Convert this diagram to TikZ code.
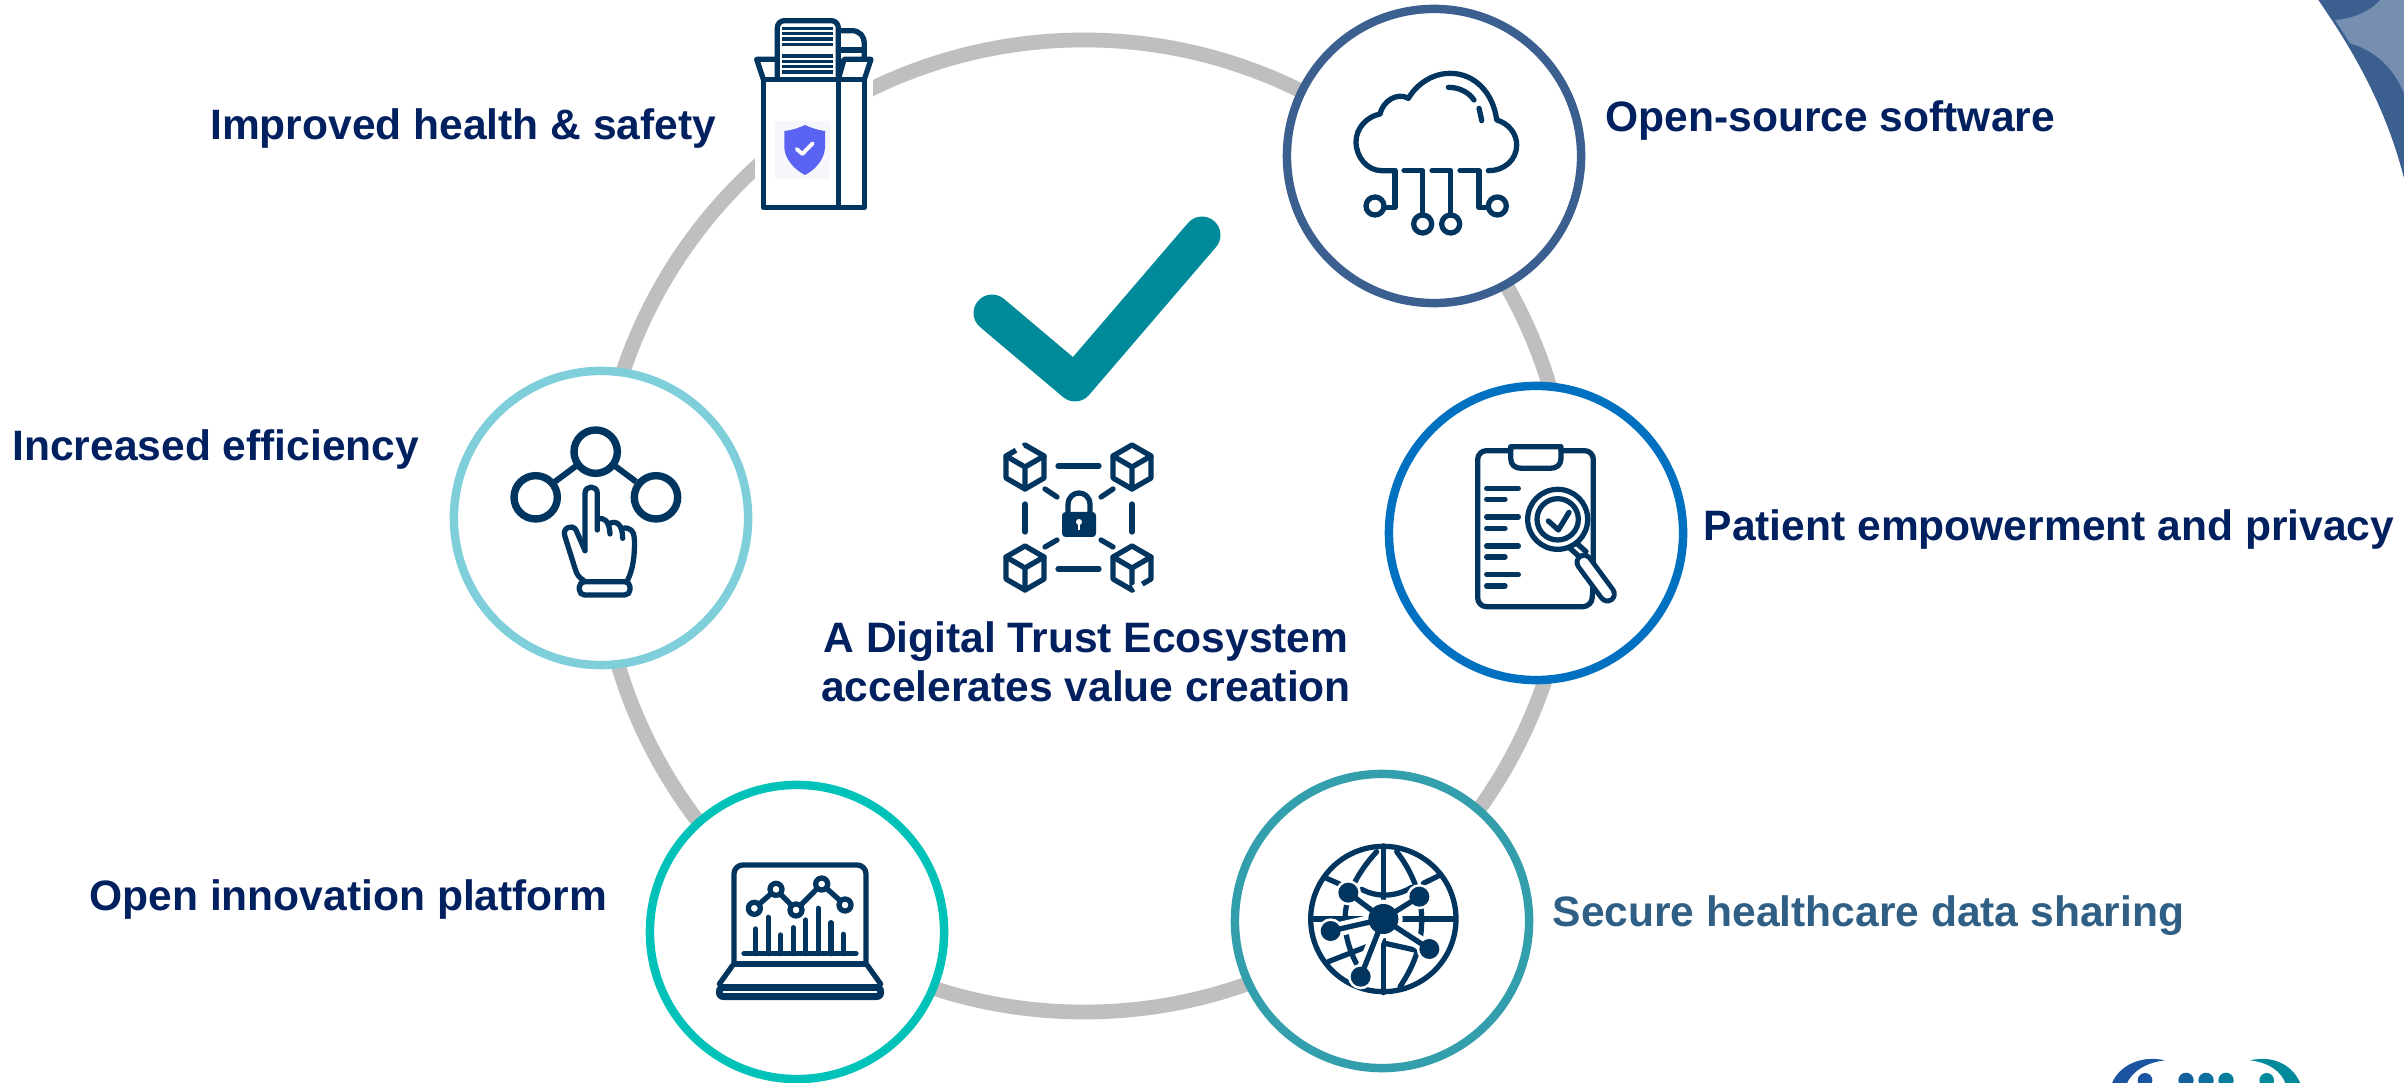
\documentclass[tikz,border=0pt]{standalone}
\usepackage{fontspec}
\setmainfont{Liberation Sans}
\definecolor{navytext}{HTML}{002060}
\definecolor{icondark}{HTML}{00355F}
\definecolor{ringgray}{HTML}{BFBFBF}
\definecolor{cloudblue}{HTML}{3B5F8F}
\definecolor{clipblue}{HTML}{0070C0}
\definecolor{globeteal}{HTML}{339EAC}
\definecolor{laptopteal}{HTML}{00C2B8}
\definecolor{handblue}{HTML}{7FCFDB}
\definecolor{checkteal}{HTML}{008A9A}
\definecolor{shareblue}{HTML}{2F5F85}
\definecolor{shieldblue}{HTML}{5B64F2}
\definecolor{shieldback}{HTML}{F6F7FB}
\definecolor{logoblue}{HTML}{1B54A0}
\tikzset{
    stage/.style={circle, draw, fill=white, line width=2.4pt, minimum size=2.94cm, inner sep=0pt},
    caption/.style={font=\fontsize{12.1}{14}\selectfont\bfseries, text=navytext, inner sep=0pt},
    iconline/.style={draw=icondark, line width=1.5pt, line cap=round, line join=round},
    pics/blockcube/.style={code={
        \draw[iconline] (0,-22) -- (19,-11) -- (19,11) -- (0,22) -- (-19,11) -- (-19,-11) -- cycle;
        \draw[iconline] (-19,-11) -- (0,0) -- (19,-11) (0,0) -- (0,22);
    }}
}
\begin{document}
\begin{tikzpicture}[x=0.01cm, y=-0.01cm]
        \useasboundingbox (0,0) rectangle (2404,1083);
        \clip (0,0) rectangle (2404,1083);
        \fill[white] (0,0) rectangle (2404,1083);

        % corner picture
        \begin{scope}[shift={(2100,0)}, scale=1/3]
            \clip (655,0) .. controls (730,110) and (850,290) .. (912,535) -- (912,0) -- cycle;
            \fill[cloudblue] (600,0) rectangle (912,540);
            \fill[color=white!30!cloudblue] (705,60) .. controls (760,55) and (810,35) .. (840,0) -- (912,0) -- (912,280)
                .. controls (880,200) and (820,150) .. (750,130) -- cycle;
        \end{scope}

        % logo
        \begin{scope}[shift={(2060,1023)}, scale=1/3]
            \fill[logoblue] (315,112) .. controls (240,95) and (175,130) .. (155,183) -- (200,183) .. controls (215,145) and (260,118) .. (315,112) -- cycle;
            \fill[checkteal] (570,112) .. controls (645,95) and (700,130) .. (722,183) -- (677,183) .. controls (665,145) and (625,118) .. (570,112) -- cycle;
            \fill[logoblue] (255,172) circle (22);
            \fill[color=logoblue!75!checkteal] (378,172) circle (23);
            \fill[color=logoblue!50!checkteal] (438,172) circle (23);
            \fill[color=logoblue!25!checkteal] (498,172) circle (23);
            \fill[checkteal] (620,172) circle (22);
        \end{scope}

        % big ring
        \draw[ringgray, line width=4.2pt] (1084,526) circle (486);
        \fill[white] (755,0) rectangle (873,215);

        \node[stage, draw=cloudblue] (cloud) at (1434,156) {};
        \node[stage, draw=clipblue] (clipboard) at (1536,533) {};
        \node[stage, draw=globeteal] (globe) at (1382,921) {};
        \node[stage, draw=laptopteal] (laptop) at (797,932) {};
        \node[stage, draw=handblue] (hand) at (601,518) {};

        \node[caption, anchor=east] (safety) at (717,129) {Improved health \& safety};
        \node[caption, anchor=west] (software) at (1605,121) {Open-source software};
        \node[caption, anchor=west] (privacy) at (1703,530) {Patient empowerment and privacy};
        \node[caption, anchor=west, text=shareblue] (sharing) at (1552,916) {Secure healthcare data sharing};
        \node[caption, anchor=east] (platform) at (608,899) {Open innovation platform};
        \node[caption, anchor=east] (efficiency) at (420,450) {Increased efficiency};
        \node[caption, align=center] (ecosystem) at (1086,662) {A Digital Trust Ecosystem\\accelerates value creation};

        % check mark
        \draw[checkteal, line width=10.5pt, line cap=round, line join=round] (992,313) -- (1075,383) -- (1202,235);

        % blocks and lock
        \foreach \cx/\cy in {1025/467, 1132/467, 1025/568, 1132/568}
            \pic at (\cx,\cy) {blockcube};
        \draw[white, line width=2.2pt] (1016,450) -- (1023,446);
        \draw[white, line width=2.2pt] (1134,589) -- (1142,584);
        \foreach \ax/\ay/\bx/\by in {1058/466/1099/466, 1058/569/1099/569, 1025/504/1025/532, 1132/504/1132/532,
            1045/489/1057/497, 1113/489/1101/497, 1045/547/1057/540, 1113/547/1101/540}
            \draw[iconline] (\ax,\ay) -- (\bx,\by);
        \fill[icondark, rounded corners=1pt] (1062,512) rectangle (1096,537);
        \draw[iconline] (1068,512) -- (1068,505) .. controls (1068,489) and (1090,489) .. (1090,505) -- (1090,512);
        \fill[white] (1079,522) circle (3);
        \draw[white, line width=0.6pt] (1079,522) -- (1079,530);

        % box with papers
        \begin{scope}[shift={(720,0)}, scale=1/3]
            \draw[iconline, rounded corners=2pt] (172,235) -- (172,62) -- (355,62) -- (355,235);
            \draw[iconline] (358,92) -- (395,92) .. controls (420,92) and (433,110) .. (433,130) -- (433,175);
            \draw[iconline] (358,150) -- (433,150);
            \foreach \ly in {85, 100, 117, 133, 168, 185, 200, 216}
                \draw[icondark, line width=0.9pt] (187,\ly) -- (340,\ly);
            \draw[iconline] (130,238) rectangle (433,622);
            \draw[iconline] (355,238) -- (355,622);
            \draw[iconline] (130,238) -- (110,178) -- (170,178);
            \draw[iconline] (355,238) -- (372,178) -- (453,178) -- (433,238);
            \fill[shieldback] (165,363) rectangle (330,537);
            \fill[shieldblue] (193,393) .. controls (220,390) and (240,382) .. (255,375) .. controls (270,382) and (290,390) .. (315,393)
                -- (315,445) .. controls (312,480) and (285,510) .. (255,525) .. controls (225,510) and (196,480) .. (193,445) -- cycle;
            \draw[white, line width=1.1pt, line cap=round, line join=round] (230,447) -- (247,462) -- (278,430);
        \end{scope}

        % cloud
        \begin{scope}[shift={(1280,0)}, scale=1/3]
            \draw[iconline] (345,512) -- (305,512) .. controls (262,512) and (228,472) .. (228,425) .. controls (228,385) and (260,350) .. (300,342)
                .. controls (308,305) and (350,275) .. (385,295) .. controls (415,245) and (465,220) .. (510,220)
                .. controls (585,220) and (640,280) .. (650,360) .. controls (685,370) and (710,400) .. (710,435)
                .. controls (710,478) and (675,512) .. (625,512);
            \draw[iconline] (345,512) -- (345,622) -- (315,622);
            \draw[iconline] (372,512) -- (428,512) -- (428,645);
            \draw[iconline] (456,512) -- (512,512) -- (512,645);
            \draw[iconline] (540,512) -- (597,512) -- (597,622) -- (625,622);
            \foreach \px/\py in {285/618, 428/672, 512/672, 652/618}
                \draw[iconline] (\px,\py) circle (27);
            \draw[iconline] (505,262) .. controls (535,262) and (565,275) .. (582,300);
            \draw[iconline] (597,325) .. controls (600,338) and (603,350) .. (605,362);
        \end{scope}

        % clipboard
        \begin{scope}[shift={(1380,380)}, scale=1/3]
            \draw[iconline, rounded corners=2.5pt] (392,212) -- (293,212) -- (293,680) -- (635,680) -- (640,600) -- (640,212) -- (543,212);
            \draw[iconline] (392,200) -- (543,200) -- (543,235) .. controls (543,255) and (530,265) .. (510,265) -- (425,265) .. controls (405,265) and (392,255) .. (392,235) -- cycle;
            \foreach \ly/\lx in {325/415, 358/375, 411/415, 445/375, 498/415, 531/375, 584/415, 618/375}
                \draw[iconline] (320,\ly) -- (\lx,\ly);
            \draw[icondark, line width=5.4pt, line cap=round] (612,547) -- (682,642);
            \draw[white, line width=2.6pt, line cap=round] (612,547) -- (682,642);
            \draw[iconline] (590,490) -- (618,515) (570,505) -- (598,530);
            \draw[iconline, fill=white] (533,418) circle (90);
            \draw[iconline] (533,418) circle (62);
            \draw[iconline] (505,423) -- (535,450) -- (567,397);
        \end{scope}

        % globe
        \begin{scope}[shift={(1230,770)}, scale=1/3]
            \draw[iconline] (460,447) circle (218);
            \draw[iconline] (250,447) -- (670,447) (460,228) -- (460,668);
            \draw[iconline] (440,245) .. controls (380,310) and (345,380) .. (345,450) .. controls (345,500) and (360,545) .. (380,582);
            \draw[iconline] (500,245) .. controls (550,310) and (575,380) .. (575,450) .. controls (575,530) and (550,590) .. (510,650);
            \draw[iconline] (395,358) .. controls (440,382) and (495,382) .. (545,352);
            \draw[iconline] (290,325) -- (335,345) (580,340) -- (625,318);
            \draw[iconline] (295,575) -- (410,530) (465,520) -- (555,540);
            \foreach \nx/\ny in {355/368, 568/380, 302/483, 598/537, 392/620} {
                \draw[white, line width=4pt] (460,447) -- (\nx,\ny);
                \fill[white] (\nx,\ny) circle (38);
            }
            \fill[white] (460,447) circle (58);
            \foreach \nx/\ny in {355/368, 568/380, 302/483, 598/537, 392/620} {
                \draw[iconline] (460,447) -- (\nx,\ny);
                \fill[icondark] (\nx,\ny) circle (30);
            }
            \fill[icondark] (460,447) circle (45);
        \end{scope}

        % laptop
        \begin{scope}[shift={(650,780)}, scale=1/3]
            \draw[iconline, rounded corners=2.5pt] (252,552) -- (252,255) -- (648,255) -- (648,552);
            \draw[iconline] (252,552) -- (648,552);
            \draw[iconline] (248,556) -- (208,612) (652,556) -- (692,612);
            \fill[icondark, rounded corners=2pt] (198,612) rectangle (702,660);
            \draw[white, line width=0.5pt] (218,637) -- (682,637);
            \foreach \bx/\by in {317/447, 355/412, 392/465, 430/443, 467/420, 505/385, 543/428, 580/463}
                \draw[iconline] (\bx,\by) -- (\bx,521);
            \draw[iconline] (282,521) -- (618,521);
            \draw[iconline] (313,385) -- (378,328) -- (438,390) -- (515,312) -- (585,375);
            \foreach \px/\py in {313/385, 378/328, 438/390, 515/312, 585/375}
                \draw[iconline, fill=white] (\px,\py) circle (18);
        \end{scope}

        % hand
        \begin{scope}[shift={(450,360)}, scale=1/3]
            \foreach \px/\py in {437/275, 257/412, 618/412}
                \draw[icondark, line width=2.1pt] (\px,\py) circle (65);
            \draw[icondark, line width=1.7pt] (378,318) -- (315,365) (495,318) -- (558,365);
            \draw[iconline] (405,572) -- (405,400) .. controls (405,375) and (442,375) .. (442,400) -- (442,510);
            \draw[iconline] (442,478) .. controls (460,470) and (478,480) .. (480,522);
            \draw[iconline] (480,490) .. controls (500,480) and (518,495) .. (518,535);
            \draw[iconline] (518,505) .. controls (540,500) and (553,515) .. (553,535) .. controls (555,590) and (548,630) .. (533,660);
            \draw[iconline] (405,572) -- (378,510) .. controls (365,490) and (335,505) .. (345,530) -- (375,625) .. controls (380,645) and (390,655) .. (400,660);
            \draw[iconline, rounded corners=1.5pt] (388,665) rectangle (540,705);
        \end{scope}
    \end{tikzpicture}
\end{document}
